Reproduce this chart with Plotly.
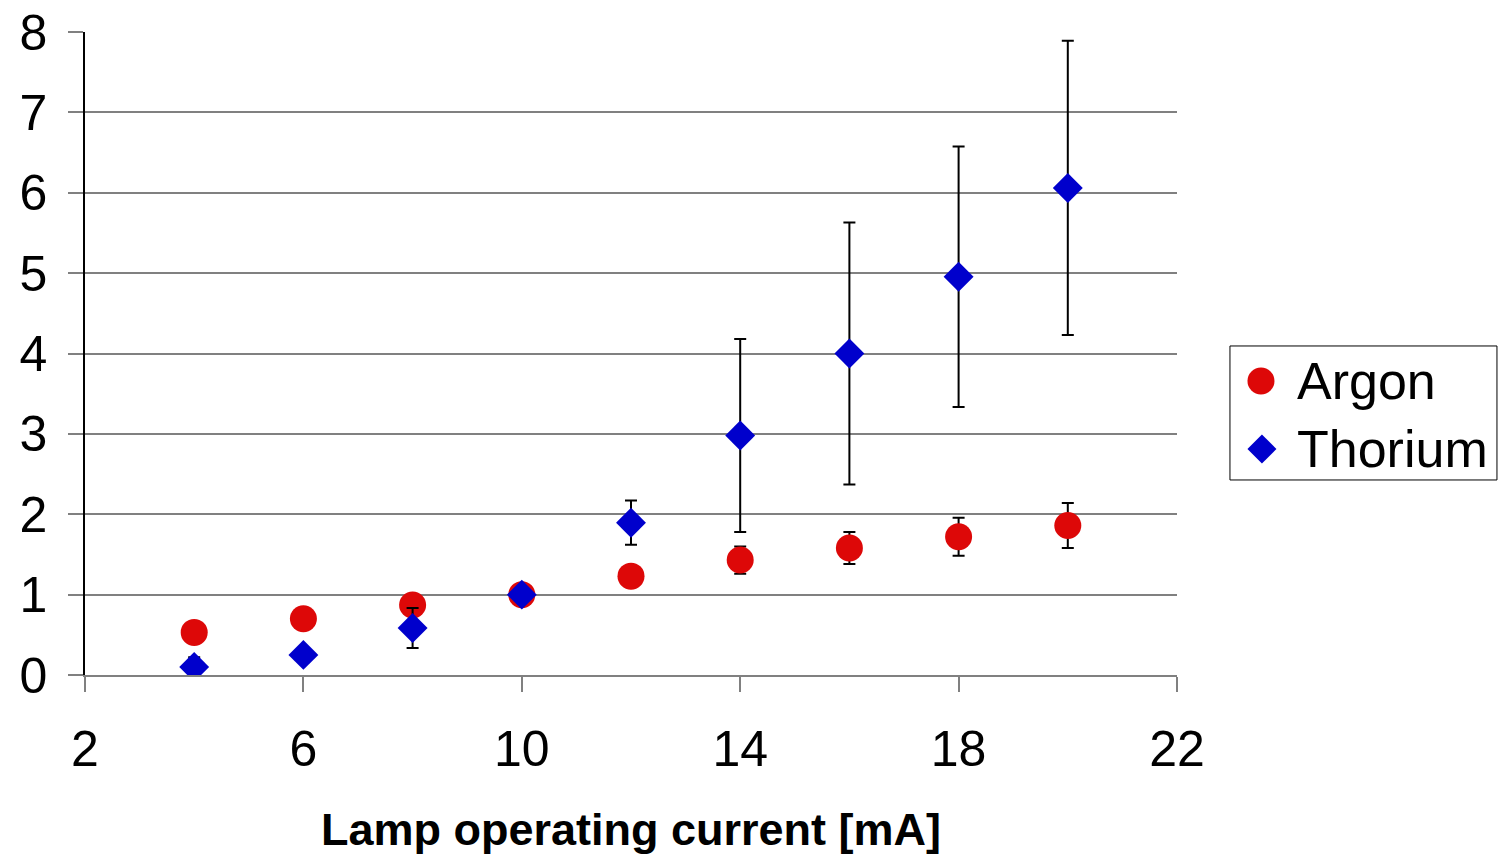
import plotly.graph_objects as go

# Lamp operating current [mA]
current = [4, 6, 8, 10, 12, 14, 16, 18, 20]

# Relative intensity, argon lines
argon = [0.53, 0.70, 0.87, 1.00, 1.23, 1.43, 1.58, 1.72, 1.86]
argon_err = [0.05, 0.05, 0.06, 0.06, 0.08, 0.17, 0.20, 0.235, 0.28]

# Relative intensity, thorium lines
thorium = [0.10, 0.25, 0.585, 1.00, 1.895, 2.98, 4.00, 4.955, 6.06]
thorium_err = [0.12, 0.08, 0.25, 0.08, 0.275, 1.20, 1.63, 1.62, 1.83]

series_names = ["Argon", "Thorium"]
series_colors = ["#dd0808", "#0000cc"]

FONT = "Liberation Sans, Arial, sans-serif"

fig = go.Figure()

fig.add_trace(go.Scatter(
    x=current, y=argon, name=series_names[0], mode="markers",
    marker=dict(symbol="circle", size=27, color=series_colors[0], line=dict(width=0)),
    error_y=dict(type="data", array=argon_err, visible=True,
                 color="black", thickness=2, width=6),
))

fig.add_trace(go.Scatter(
    x=current, y=thorium, name=series_names[1], mode="markers",
    marker=dict(symbol="diamond", size=23, color=series_colors[1], line=dict(width=0)),
    error_y=dict(type="data", array=thorium_err, visible=True,
                 color="black", thickness=2, width=6),
))

# Legend box with large symbols, drawn in paper coordinates
fig.add_shape(type="rect", xref="paper", yref="paper",
              x0=1.0485, x1=1.2930, y0=0.3033, y1=0.5117,
              line=dict(color="black", width=1), fillcolor="white", layer="below")
fig.add_shape(type="circle", xref="paper", yref="paper",
              xsizemode="pixel", ysizemode="pixel",
              xanchor=1.0769, yanchor=0.4572,
              x0=-13.5, x1=13.5, y0=-13.5, y1=13.5,
              fillcolor=series_colors[0], line=dict(width=0))
fig.add_shape(type="path", xref="paper", yref="paper",
              xsizemode="pixel", ysizemode="pixel",
              xanchor=1.0778, yanchor=0.3515,
              path="M -14.5 0 L 0 14.5 L 14.5 0 L 0 -14.5 Z",
              fillcolor=series_colors[1], line=dict(width=0))
for name, ypos in zip(series_names, [0.4572, 0.3515]):
    fig.add_annotation(text=name, xref="paper", yref="paper",
                       x=1.1081, y=ypos, xanchor="left", yanchor="middle",
                       showarrow=False, font=dict(size=52, family=FONT, color="black"))

fig.update_layout(
    width=1498, height=855,
    margin=dict(l=85, r=321, t=32, b=180),
    paper_bgcolor="white", plot_bgcolor="white",
    font=dict(family=FONT, color="black"),
    showlegend=False,
    xaxis=dict(
        range=[2, 22], tick0=2, dtick=4, tickmode="linear",
        showgrid=False, zeroline=False, automargin=False,
        showline=True, linecolor="#808080", linewidth=2,
        ticks="outside", ticklen=15, tickwidth=1.5, tickcolor="#808080",
        tickfont=dict(size=50, family=FONT, color="black"),
        ticklabelstandoff=14,
        title=dict(text="<b>Lamp operating current [mA]</b>",
                   font=dict(size=45, family=FONT, color="black"),
                   standoff=40),
    ),
    yaxis=dict(
        range=[0, 8], tick0=0, dtick=1, tickmode="linear",
        showgrid=True, gridcolor="#808080", gridwidth=1.5,
        zeroline=False, automargin=False,
        showline=True, linecolor="black", linewidth=1.5,
        ticks="outside", ticklen=15, tickwidth=1.5, tickcolor="#808080",
        tickfont=dict(size=50, family=FONT, color="black"),
        ticklabelstandoff=11,
    ),
)

fig.write_html("out.html")
